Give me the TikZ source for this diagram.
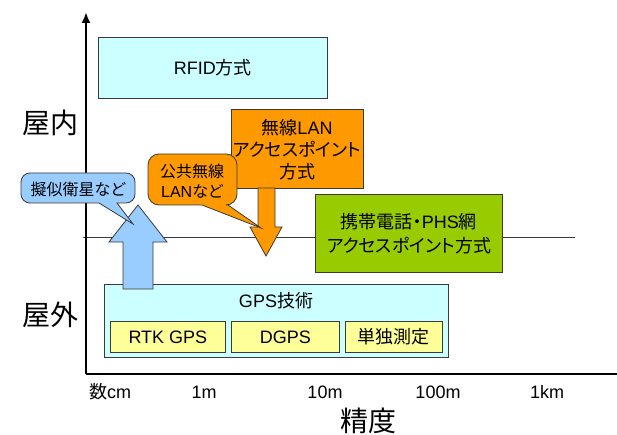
\documentclass[tikz,border=0pt]{standalone}
\usepackage{fontspec}
\usetikzlibrary{arrows.meta}
\setmainfont{Liberation Sans}
\newfontfamily\jp[RawFeature=+palt]{Noto Sans CJK JP}
\newcommand\J[1]{{\jp #1}}
\definecolor{bordergray}{HTML}{3A3A3A}
\definecolor{cyanfill}{HTML}{CCFFFF}
\definecolor{yellowfill}{HTML}{FFFF99}
\definecolor{orangefill}{HTML}{FF9900}
\definecolor{greenfill}{HTML}{99CC00}
\definecolor{bluefill}{HTML}{99CCFF}
\begin{document}
\begin{tikzpicture}[x=1pt,y=-1pt,
  box/.style={draw=bordergray, line width=0.8pt, inner sep=0pt, anchor=north west, align=center},
  txt/.style={font=\fontsize{18}{22}\selectfont, align=center, inner sep=0pt},
  ctxt/.style={font=\fontsize{16}{19}\selectfont, align=center, inner sep=0pt},
  big/.style={font=\fontsize{28}{30}\selectfont, inner sep=0pt},
  blockshape/.style={draw=bordergray, line width=0.8pt, line join=miter},
  axis/.style={line width=2.8pt}]
\useasboundingbox (0,0) rectangle (617,435);
% reference line
\coordinate (hl) at (83,237);
\coordinate (hr) at (575,237);
\draw[line width=0.7pt, bordergray] (hl) -- (hr);
% axes
\coordinate (origin) at (86,374);
\coordinate (ytop) at (86,12);
\coordinate (xend) at (617,374);
\draw[axis, -{Latex[length=11pt,width=9pt]}] (origin) -- (ytop);
\draw[axis] (origin) -- (xend);
% RFID
\node[box, fill=cyanfill, minimum width=229, minimum height=61] (rfid) at (98,37) {};
\node[txt] (rfidt) at (rfid.center) {RFID\J{方式}};
% GPS
\node[box, fill=cyanfill, minimum width=344, minimum height=73] (gps) at (104,284) {};
\node[txt] (gpst) at (276,301) {GPS\J{技術}};
\node[box, fill=yellowfill, minimum width=115, minimum height=31] (rtk) at (110,321) {};
\node[txt] at (rtk.center) {RTK GPS};
\node[box, fill=yellowfill, minimum width=108, minimum height=31] (dgps) at (231,321) {};
\node[txt] at (dgps.center) {DGPS};
\node[box, fill=yellowfill, minimum width=97, minimum height=31] (single) at (345,321) {};
\node[txt] at (single.center) {\J{単独測定}};
% blue up arrow
\filldraw[blockshape, fill=bluefill] (123,289) -- (153,289) -- (153,242) -- (167,242) -- (138,205) -- (109,242) -- (123,242) -- cycle;
% orange box
\node[box, fill=orangefill, minimum width=132, minimum height=79] (wlan) at (231,109) {};
\node[txt] at (297,150) {\J{無線}LAN\\\J{アクセスポイント}\\\J{方式}};
% orange down arrow
\filldraw[blockshape, fill=orangefill] (258,188) -- (275,188) -- (275,227) -- (282,227) -- (266,256) -- (250,227) -- (258,227) -- cycle;
% green box
\node[box, fill=greenfill, minimum width=187, minimum height=78] (cell) at (315,194) {};
\node[txt, font=\fontsize{18}{24}\selectfont] at (cell.center) {\J{携帯電話・}PHS\J{網}\\\J{アクセスポイント方式}};
% blue callout
\filldraw[blockshape, fill=bluefill, rounded corners=9pt] (60,173) -- (135,173) -- (135,203) [sharp corners] -- (117,203) -- (133,224) -- (99,203) [rounded corners=9pt] -- (21,203) -- (21,173) -- cycle;
\node[ctxt] (pseudo) at (78,189) {\J{擬似衛星など}};
% orange callout
\filldraw[blockshape, fill=orangefill, rounded corners=11pt] (190,154) -- (237,154) -- (237,205) [sharp corners] -- (228,205) -- (261,228) -- (202,205) [rounded corners=11pt] -- (148,205) -- (148,154) -- cycle;
\node[ctxt, font=\fontsize{16}{20}\selectfont] (pub) at (192,181) {\J{公共無線}\\LAN\J{など}};
% labels
\node[big] (indoor) at (50,123) {\J{屋内}};
\node[big] (outdoor) at (50,315) {\J{屋外}};
\node[big] (prec) at (368,421) {\J{精度}};
\node[txt] (t1) at (110,392) {\J{数}cm};
\node[txt] (t2) at (204,392) {1m};
\node[txt] (t3) at (325,392) {10m};
\node[txt] (t4) at (438,392) {100m};
\node[txt] (t5) at (547,392) {1km};
\end{tikzpicture}
\end{document}
